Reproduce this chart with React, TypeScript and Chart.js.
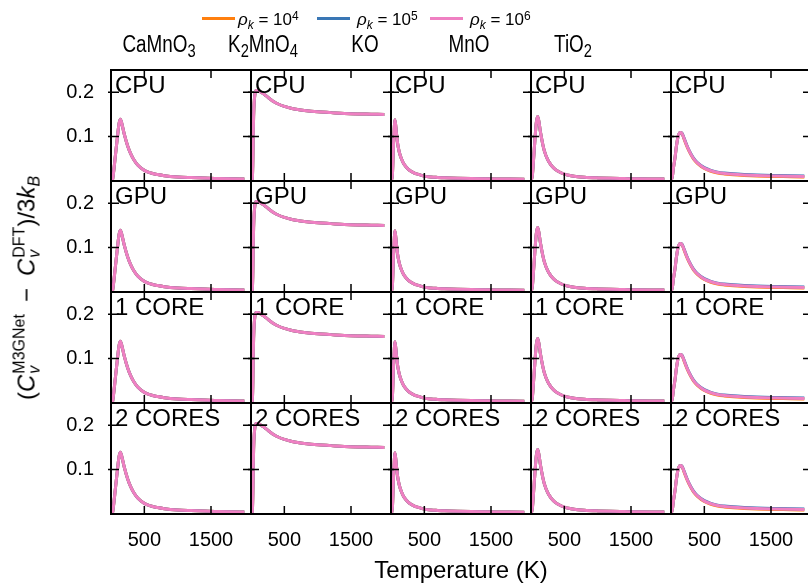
import React, { useEffect, useRef } from "react";
import { Chart, registerables } from "chart.js";

Chart.register(...registerables);

// ---------- data ----------
const materials = ["CaMnO_3", "K_2MnO_4", "KO", "MnO", "TiO_2"];
const rowLabels = ["CPU", "GPU", "1 CORE", "2 CORES"];
const seriesExponents = ["4", "5", "6"];
const seriesColors = ["#ff7f0e", "#3a77b5", "#ef80c2"];
const xTickValues = [500, 1500];
const yTickValues = [0.1, 0.2];
const temperatures = [0, 20, 40, 60, 80, 100, 120, 140, 160, 180, 200, 250, 300, 350, 400, 500, 600, 700, 800, 1000, 1200, 1400, 1600, 1800, 2000];

const caMnO3 = [0, 0.0, 0.021, 0.049, 0.077, 0.104, 0.129, 0.139, 0.131, 0.118, 0.105, 0.079, 0.06, 0.046, 0.036, 0.024, 0.018, 0.0145, 0.012, 0.0092, 0.0077, 0.0065, 0.0057, 0.005, 0.0045];
const k2MnO4 = [0, 0.002, 0.15, 0.197, 0.204, 0.204, 0.203, 0.201, 0.199, 0.197, 0.195, 0.189, 0.183, 0.178, 0.174, 0.168, 0.164, 0.161, 0.159, 0.156, 0.154, 0.152, 0.151, 0.1505, 0.15];
const kO = [0, 0.012, 0.09, 0.138, 0.11, 0.084, 0.068, 0.057, 0.049, 0.042, 0.037, 0.028, 0.022, 0.018, 0.0155, 0.011, 0.009, 0.008, 0.0072, 0.0062, 0.0055, 0.005, 0.0046, 0.0043, 0.004];
const mnO = [0, 0.012, 0.052, 0.095, 0.132, 0.145, 0.133, 0.112, 0.095, 0.08, 0.068, 0.048, 0.036, 0.028, 0.0225, 0.0155, 0.012, 0.0098, 0.0085, 0.007, 0.006, 0.0055, 0.005, 0.0047, 0.0045];
const tiO2Rho4 = [0, 0.01, 0.033, 0.052, 0.077, 0.096, 0.106, 0.109, 0.1075, 0.1013, 0.093, 0.074, 0.059, 0.047, 0.039, 0.028, 0.022, 0.018, 0.016, 0.0135, 0.0118, 0.0108, 0.0102, 0.0096, 0.0091];
const tiO2Rho5 = [0, 0.01, 0.033, 0.052, 0.077, 0.096, 0.106, 0.109, 0.1085, 0.1027, 0.095, 0.076, 0.061, 0.049, 0.041, 0.030, 0.024, 0.020, 0.018, 0.0155, 0.0138, 0.0128, 0.0122, 0.0116, 0.011];
const tiO2Rho6 = [0, 0.01, 0.033, 0.052, 0.077, 0.096, 0.106, 0.109, 0.108, 0.102, 0.094, 0.075, 0.06, 0.048, 0.04, 0.029, 0.023, 0.019, 0.017, 0.0145, 0.0128, 0.0118, 0.0112, 0.0106, 0.01];

const materialSeries = [
  [caMnO3, caMnO3, caMnO3],
  [k2MnO4, k2MnO4, k2MnO4],
  [kO, kO, kO],
  [mnO, mnO, mnO],
  [tiO2Rho4, tiO2Rho5, tiO2Rho6],
];

// ---------- layout ----------
const FONT = '"Liberation Sans", Arial, Helvetica, sans-serif';
const CANVAS_W = 830;
const CANVAS_H = 584;
const headerCenters = [159, 262.5, 365, 469, 572.5];
const legendLineX = [202, 317, 430];
const legendTextX = [238, 357, 470];

const panelPlugin = {
  id: "panelFrames",
  afterDatasetsDraw(chart: any) {
    const ctx = chart.ctx;
    ctx.save();
    for (let r = 0; r < rowLabels.length; r++) {
      for (let c = 0; c < materials.length; c++) {
        const xs = chart.scales["x" + c];
        const ys = chart.scales["y" + r];
        const L = xs.left, R = xs.right, T = ys.top, B = ys.bottom;
        ctx.strokeStyle = "#000";
        ctx.lineWidth = 1.5;
        ctx.beginPath();
        for (const v of xTickValues) {
          const px = xs.getPixelForValue(v);
          ctx.moveTo(px, B); ctx.lineTo(px, B - 8);
          ctx.moveTo(px, T); ctx.lineTo(px, T + 8);
        }
        for (const v of yTickValues) {
          const py = ys.getPixelForValue(v);
          ctx.moveTo(L - 3, py); ctx.lineTo(L + 8, py);
          ctx.moveTo(R - 8, py); ctx.lineTo(R + 3, py);
        }
        ctx.stroke();
        ctx.lineWidth = 2;
        ctx.strokeRect(L, T, R - L, B - T);
        ctx.fillStyle = "#000";
        ctx.font = `24px ${FONT}`;
        ctx.textAlign = "left";
        ctx.textBaseline = "alphabetic";
        ctx.fillText(rowLabels[r], L + 4, T + 23);
      }
    }
    ctx.restore();
  },
};

function renderFormula(s: string) {
  const parts = s.split(/_(\d)/);
  return parts.map((p, i) =>
    i % 2 === 1 ? (
      <span key={i} style={{ fontSize: "0.78em", position: "relative", top: "5px" }}>{p}</span>
    ) : (
      <span key={i}>{p}</span>
    )
  );
}

function SupSub({ sup, sub }: { sup: string; sub: string }) {
  return (
    <span style={{ display: "inline-block", position: "relative", fontSize: 16, lineHeight: "16px", marginLeft: 1 }}>
      <span style={{ position: "relative", top: -10 }}>{sup}</span>
      <span style={{ position: "absolute", left: 0, top: 5, fontStyle: "italic", lineHeight: "16px" }}>{sub}</span>
    </span>
  );
}

export default function App() {
  const ref = useRef<HTMLCanvasElement>(null);

  useEffect(() => {
    document.body.style.margin = "0";
    const canvas = ref.current!;
    const datasets: any[] = [];
    for (let r = 0; r < rowLabels.length; r++) {
      for (let c = 0; c < materials.length; c++) {
        for (let s = 0; s < seriesExponents.length; s++) {
          const vals = materialSeries[c][s];
          datasets.push({
            label: `ρk = 10^${seriesExponents[s]}`,
            data: temperatures.map((t, i) => ({ x: t, y: vals[i] })),
            xAxisID: "x" + c,
            yAxisID: "y" + r,
            borderColor: seriesColors[s],
            backgroundColor: seriesColors[s],
            borderWidth: 3,
            pointRadius: 0,
            fill: false,
            cubicInterpolationMode: "monotone",
            order: 2 - s,
          });
        }
      }
    }
    const scales: any = {};
    materials.forEach((_, c) => {
      scales["x" + c] = {
        type: "linear",
        axis: "x",
        position: "bottom",
        stack: "cols",
        min: 0,
        max: 2100,
        grid: { display: false, drawTicks: false },
        border: { display: false },
        afterBuildTicks: (s: any) => {
          s.ticks = xTickValues.map((v) => ({ value: v }));
        },
        afterFit: (s: any) => {
          s.height = 40;
          s.paddingLeft = 0;
          s.paddingRight = 0;
        },
        ticks: {
          font: { family: FONT, size: 20 },
          color: "#000",
          padding: 14,
          maxRotation: 0,
          autoSkip: false,
          callback: (v: any) => String(v),
        },
      };
    });
    // left-side stacked boxes are placed bottom-up, so insert the last row first
    for (let r = rowLabels.length - 1; r >= 0; r--) {
      scales["y" + r] = {
        type: "linear",
        axis: "y",
        position: "left",
        stack: "rows",
        min: 0,
        max: 0.25,
        grid: { display: false, drawTicks: false },
        border: { display: false },
        afterBuildTicks: (s: any) => {
          s.ticks = yTickValues.map((v) => ({ value: v }));
        },
        afterFit: (s: any) => {
          s.width = 111;
          s.paddingTop = 0;
          s.paddingBottom = 0;
        },
        ticks: {
          font: { family: FONT, size: 20 },
          color: "#000",
          padding: 17,
          autoSkip: false,
          callback: (v: any) => Number(v).toFixed(1),
        },
      };
    }
    const chart = new Chart(canvas, {
      type: "line",
      data: { datasets },
      options: {
        animation: false,
        responsive: false,
        events: [],
        layout: { padding: { left: 0, right: CANVAS_W - 811, top: 70, bottom: CANVAS_H - 514 - 40 } },
        plugins: { legend: { display: false }, tooltip: { enabled: false } },
        scales,
      },
      plugins: [panelPlugin],
    } as any);
    return () => chart.destroy();
  }, []);

  return (
    <div style={{ position: "fixed", left: 0, top: 0, width: 808, height: 584, overflow: "hidden", background: "#fff", fontFamily: FONT, color: "#000" }}>
      <div style={{ position: "absolute", left: 0, top: 0, width: CANVAS_W, height: CANVAS_H }}>
        <canvas ref={ref} width={CANVAS_W} height={CANVAS_H} style={{ display: "block", width: CANVAS_W, height: CANVAS_H }} />
      </div>
      {/* legend */}
      {seriesExponents.map((e, i) => (
        <React.Fragment key={e}>
          <div style={{ position: "absolute", left: legendLineX[i], top: 16.5, width: 33, height: 3, background: seriesColors[i] }} />
          <div style={{ position: "absolute", left: legendTextX[i], top: 11, fontSize: 17, lineHeight: "17px", whiteSpace: "nowrap" }}>
            <i>ρ</i>
            <i style={{ fontSize: 12, position: "relative", top: 4 }}>k</i>
            {" = 10"}
            <span style={{ fontSize: 12, position: "relative", top: -5 }}>{e}</span>
          </div>
        </React.Fragment>
      ))}
      {/* column headers */}
      {materials.map((m, i) => (
        <div key={m} style={{ position: "absolute", left: headerCenters[i], top: 33, fontSize: 23, lineHeight: "23px", whiteSpace: "nowrap", transform: "translateX(-50%) scaleX(0.82)" }}>
          {renderFormula(m)}
        </div>
      ))}
      {/* x axis title */}
      <div style={{ position: "absolute", left: 461, top: 557.5, fontSize: 24, lineHeight: "24px", whiteSpace: "nowrap", transform: "translateX(-50%)" }}>
        Temperature (K)
      </div>
      {/* y axis title */}
      <div style={{ position: "absolute", left: 28, top: 288, fontSize: 24, lineHeight: "24px", whiteSpace: "nowrap", transform: "translate(-50%, -50%) rotate(-90deg)" }}>
        (<i>C</i>
        <SupSub sup="M3GNet" sub="v" />
        {"\u2002−\u2002"}
        <i>C</i>
        <SupSub sup="DFT" sub="v" />
        )/3<i>k</i>
        <i style={{ fontSize: 16, position: "relative", top: 5 }}>B</i>
      </div>
    </div>
  );
}
